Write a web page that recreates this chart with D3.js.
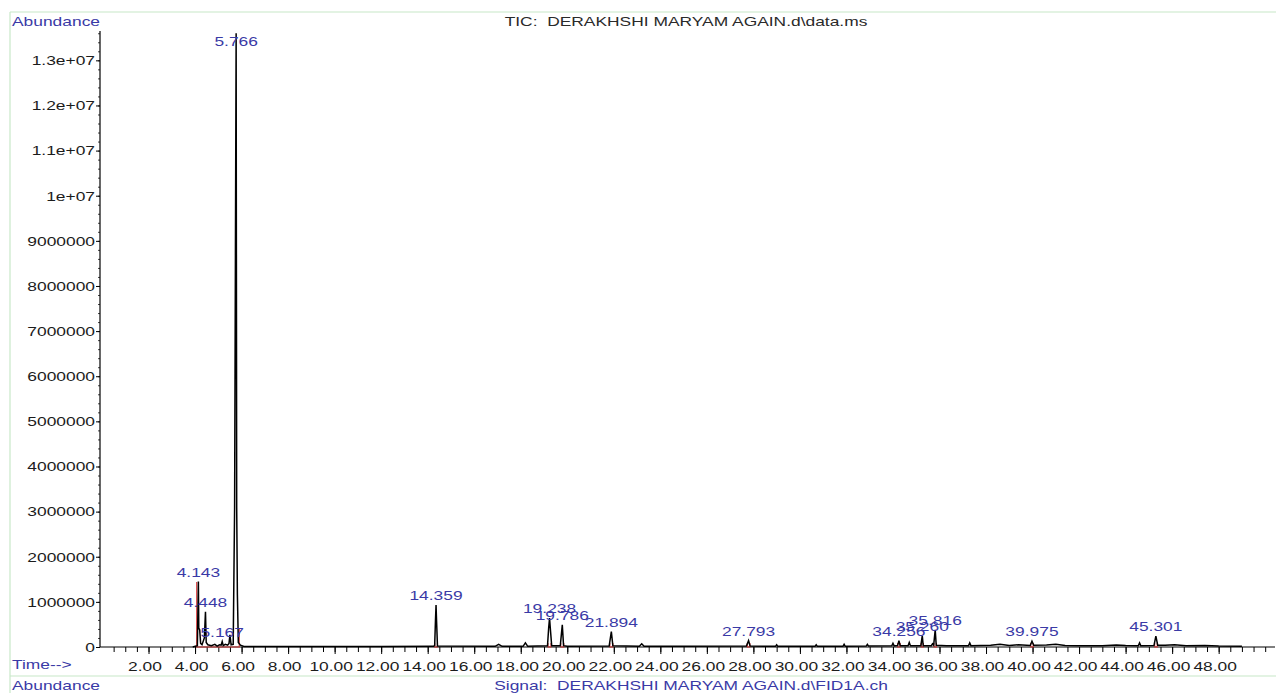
<!DOCTYPE html>
<html>
<head>
<meta charset="utf-8">
<script src="https://cdn.jsdelivr.net/npm/d3@7"></script>
<style>
  html, body { margin: 0; padding: 0; background: #fff; }
  svg { display: block; font-family: "Liberation Sans", Arial, sans-serif; }
  text { white-space: pre; }
</style>
</head>
<body>
<svg id="chart" width="1276" height="693"></svg>
<script>
// TIC trace: retention time (min) and abundance
const traceTime = [
  3.90, 4.05, 4.100, 4.143, 4.16, 4.20, 4.24, 4.30, 4.40, 4.448, 4.48, 4.55, 4.70, 4.85, 4.95,
  5.05, 5.12, 5.167, 5.21, 5.30, 5.40, 5.46, 5.50, 5.55, 5.64, 5.70, 5.766, 5.79, 5.82, 5.86,
  5.95, 6.10, 8.00, 10.00, 12.00, 14.25, 14.30, 14.335, 14.359, 14.38, 14.42, 16.90, 17.05, 17.20,
  18.10, 18.20, 18.30, 19.15, 19.20, 19.238, 19.27, 19.33, 19.70, 19.786, 19.84, 20.00, 21.80,
  21.894, 21.96, 23.10, 23.20, 23.30, 25.00, 27.70, 27.793, 27.86, 28.95, 29.00, 29.05, 30.65,
  30.70, 30.75, 31.85, 31.90, 31.95, 32.85, 32.90, 32.95, 33.95, 34.00, 34.05, 34.20, 34.256,
  34.31, 34.65, 34.70, 34.75, 35.20, 35.260, 35.30, 35.65, 35.70, 35.75, 35.816, 35.86, 36.30,
  36.90, 37.25, 37.30, 37.35, 38.20, 38.60, 39.00, 39.40, 39.90, 39.975, 40.05, 40.60, 41.00,
  41.40, 42.00, 43.00, 43.60, 44.00, 44.55, 44.60, 44.65, 45.22, 45.301, 45.38, 45.70, 46.10,
  46.60, 47.40, 48.00, 49.00
];
const traceAbund = [
  0, 20000, 30000, 1450000, 420000, 380000, 80000, 50000, 200000, 780000, 100000, 50000, 30000, 60000, 20000,
  50000, 40000, 120000, 30000, 60000, 40000, 80000, 270000, 50000, 60000, 3080000, 13600000, 3080000, 1150000, 100000,
  40000, 10000, 10000, 10000, 10000, 15000, 30000, 600000, 930000, 600000, 20000, 15000, 60000, 15000,
  15000, 90000, 15000, 25000, 420000, 640000, 420000, 30000, 30000, 490000, 30000, 15000, 20000,
  340000, 25000, 15000, 70000, 15000, 15000, 20000, 140000, 20000, 15000, 50000, 15000, 15000,
  50000, 15000, 15000, 60000, 15000, 20000, 60000, 20000, 25000, 80000, 25000, 30000, 140000,
  30000, 30000, 100000, 30000, 30000, 250000, 30000, 30000, 70000, 40000, 380000, 40000, 30000,
  30000, 30000, 90000, 30000, 40000, 60000, 35000, 50000, 35000, 130000, 40000, 45000, 60000,
  35000, 30000, 25000, 45000, 35000, 30000, 90000, 30000, 35000, 240000, 40000, 40000, 50000,
  30000, 35000, 20000, 15000
];

// Labelled peaks (retention times)
const peakTimes = [4.143, 4.448, 5.167, 5.766, 14.359, 19.238, 19.786, 21.894, 27.793, 34.256, 35.260, 35.816, 39.975, 45.301];

// Integration events: start / end times and marker heights
const integStart = [4.07, 14.30, 19.17, 19.72, 21.83, 27.74, 34.20, 35.21, 35.76, 39.92, 45.25];
const integEnd   = [5.90, 14.42, 19.30, 19.85, 21.96, 27.85, 34.31, 35.31, 35.87, 40.03, 45.36];
const integStartMark = [1440000, 90000, 90000, 90000, 90000, 90000, 90000, 90000, 90000, 90000, 90000];
const integEndMark   = [420000, 90000, 90000, 90000, 90000, 90000, 90000, 90000, 90000, 90000, 90000];

// Axis ticks
const yTicks = d3.range(0, 13000001, 1000000);
const yMinorTicks = d3.range(0, 13600001, 200000);
const xTicks = d3.range(2, 48.01, 2);
const xMinorTicks = d3.range(0.5, 50.01, 0.5);

// Text labels
const titleText = "TIC:  DERAKHSHI MARYAM AGAIN.d\\data.ms";
const signalText = "Signal:  DERAKHSHI MARYAM AGAIN.d\\FID1A.ch";
const yAxisLabel = "Abundance";
const xAxisLabel = "Time-->";

const SX = 1.45;           // horizontal stretch of the report font
const BLUE = "#3a3aa6";
const INK = "#1c1c1c";

const svg = d3.select("#chart");

const x = d3.scaleLinear().domain([0, 50.25]).range([102, 1271]);
const y = d3.scaleLinear().domain([0, 13650000]).range([647, 31]);

function label(sel, px, py, str, anchor, color, size) {
  return sel.append("text")
    .attr("transform", `translate(${px},${py}) scale(${SX},1)`)
    .attr("text-anchor", anchor)
    .attr("font-size", size || 12)
    .attr("fill", color)
    .text(str);
}

// frame
const frame = svg.append("g").attr("stroke", "#c8e8c8").attr("stroke-width", 1.2).attr("fill", "none");
frame.append("line").attr("x1", 10).attr("x2", 1276).attr("y1", 12).attr("y2", 12);
frame.append("line").attr("x1", 10).attr("x2", 10).attr("y1", 12).attr("y2", 693);
frame.append("line").attr("x1", 10).attr("x2", 1276).attr("y1", 676).attr("y2", 676);

// y axis
const fmtY = v => {
  if (v >= 1e7) {
    const e = Math.floor(Math.log10(v));
    const m = +(v / Math.pow(10, e)).toFixed(2);
    return `${m}e+${String(e).padStart(2, "0")}`;
  }
  return String(v);
};

const yMinor = svg.append("g").attr("transform", "translate(100,0)")
  .call(d3.axisLeft(y).tickValues(yMinorTicks).tickSize(2).tickFormat(""));
const yAxis = svg.append("g").attr("transform", "translate(100,0)")
  .call(d3.axisLeft(y).tickValues(yTicks).tickSize(4).tickFormat(fmtY));
[yMinor, yAxis].forEach(g => g.select(".domain").remove());
svg.append("line").attr("x1", 100).attr("x2", 100).attr("y1", y.range()[1]).attr("y2", 647)
  .attr("stroke", "#000").attr("stroke-width", 1.2);
yAxis.selectAll(".tick line").attr("stroke", "#000");
yMinor.selectAll(".tick line").attr("stroke", "#444");
yAxis.selectAll(".tick text")
  .attr("x", -5 / SX).attr("dy", "0.36em")
  .attr("transform", `scale(${SX},1)`)
  .attr("font-size", 12).attr("fill", INK)
  .attr("font-family", "Liberation Sans, Arial, sans-serif");

// x axis
const xMinor = svg.append("g").attr("transform", "translate(0,647)")
  .call(d3.axisBottom(x).tickValues(xMinorTicks).tickSize(5).tickFormat(""));
const xAxis = svg.append("g").attr("transform", "translate(0,647)")
  .call(d3.axisBottom(x).tickValues(xTicks).tickSize(7).tickFormat(d3.format(".2f")));
[xMinor, xAxis].forEach(g => g.select(".domain").remove());
svg.append("line").attr("x1", 100).attr("x2", 1275).attr("y1", 647).attr("y2", 647)
  .attr("stroke", "#000").attr("stroke-width", 1.2);
xAxis.selectAll(".tick line").attr("stroke", "#000");
xMinor.selectAll(".tick line").attr("stroke", "#000");
xAxis.selectAll(".tick text")
  .attr("x", -4 / SX).attr("y", 24).attr("dy", 0)
  .attr("transform", `scale(${SX},1)`)
  .attr("font-size", 12).attr("fill", INK)
  .attr("font-family", "Liberation Sans, Arial, sans-serif");

// integration baselines and markers
const integ = svg.append("g").attr("stroke", "#d83a3a").attr("stroke-width", 1.1).attr("fill", "none");
integStart.forEach((s, i) => {
  const e = integEnd[i];
  integ.append("path").attr("d",
    `M${x(s)},${y(integStartMark[i])}L${x(s)},${y(0)}L${x(e)},${y(0)}L${x(e)},${y(integEndMark[i])}`);
});

// TIC trace
const traceData = traceTime.map((t, i) => [t, traceAbund[i]]);
svg.append("path")
  .datum(traceData)
  .attr("fill", "none")
  .attr("stroke", "#000")
  .attr("stroke-width", 1.5)
  .attr("stroke-linejoin", "miter")
  .attr("d", d3.line().x(d => x(d[0])).y(d => y(d[1])));

// peak retention-time labels
const peaks = svg.append("g");
peakTimes.forEach(t => {
  const v = traceAbund[traceTime.indexOf(t)];
  const py = Math.max(y(v) - 5, 46);
  label(peaks, x(t), py, t.toFixed(3), "middle", BLUE, 12);
});

// titles and axis captions
label(svg, 12, 26, yAxisLabel, "start", BLUE, 12);
label(svg, 686, 26, titleText, "middle", "#2a2a2a", 12);
label(svg, 12, 669, xAxisLabel, "start", BLUE, 12);
label(svg, 12, 690, yAxisLabel, "start", BLUE, 12);
label(svg, 691, 690, signalText, "middle", BLUE, 12);
</script>
</body>
</html>
